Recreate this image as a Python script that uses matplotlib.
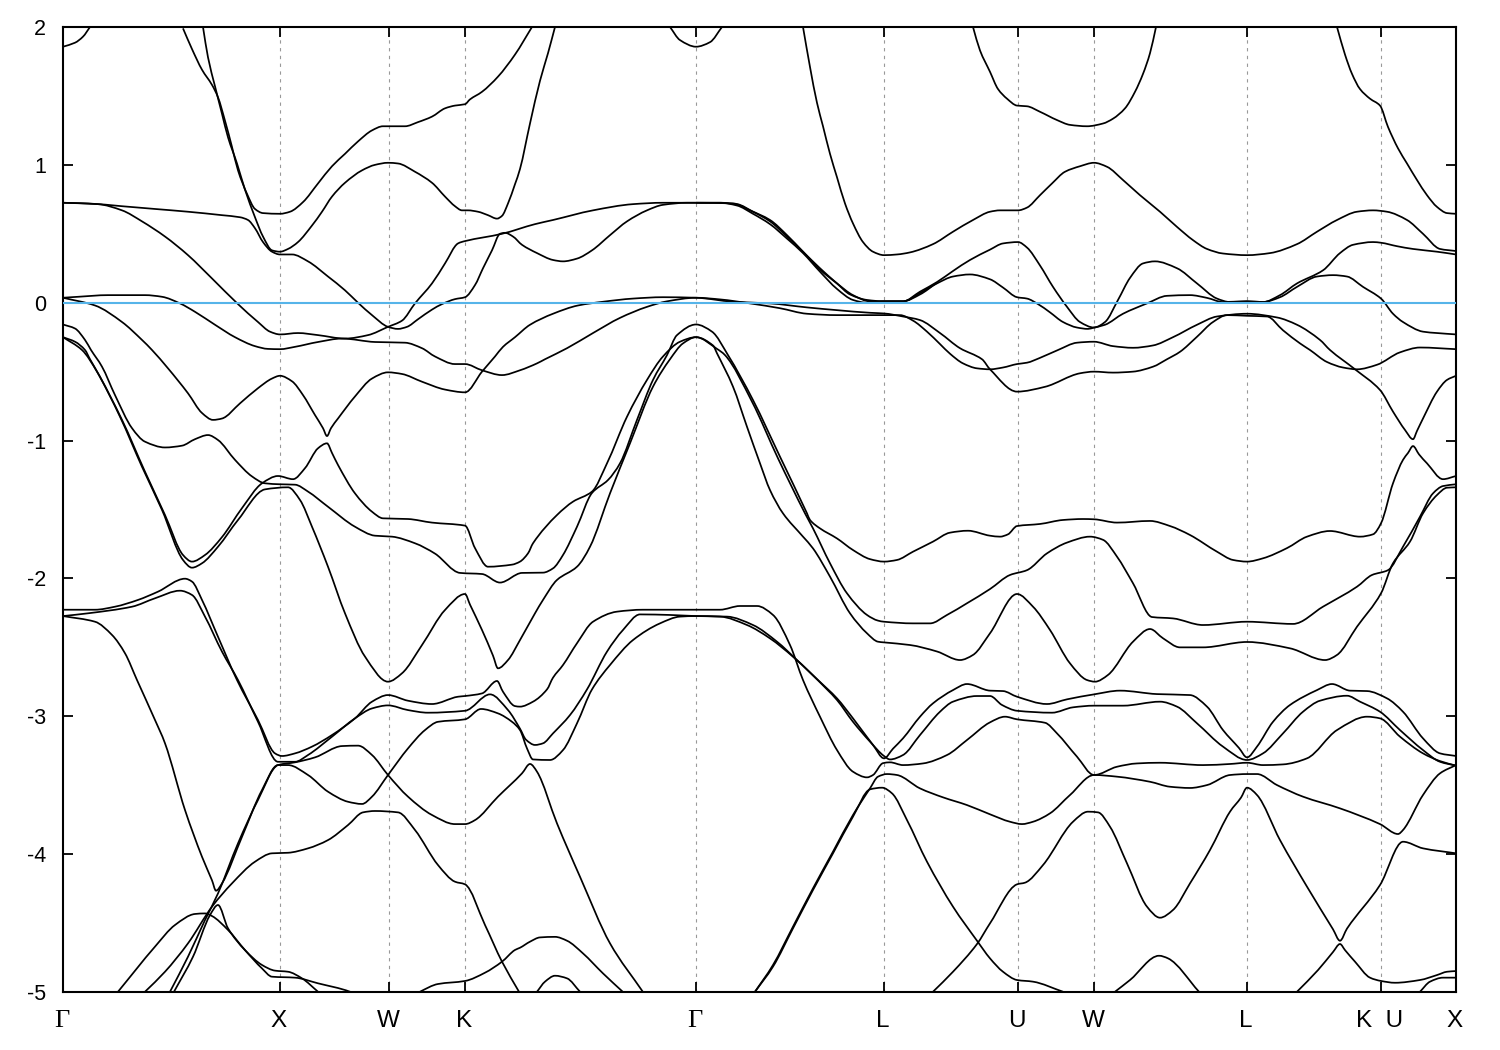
import matplotlib
matplotlib.use("Agg")
import matplotlib.pyplot as plt
from matplotlib.patches import PathPatch
from matplotlib.path import Path
from matplotlib.transforms import ScaledTranslation

plt.rcParams['font.family'] = ['Liberation Sans', 'DejaVu Sans']

# k-path position of the high symmetry points, energies in eV
kpoints = [0, 217, 326, 402, 633, 821, 955, 1031, 1184, 1318, 1393]
klabels = ["Γ", "X", "W", "K", "Γ", "L", "U", "W", "L", "K  U", "X"]
eticks = [2, 1, 0, -1, -2, -3, -4, -5]
elabels = ["2", "1", "0", "-1", "-2", "-3", "-4", "-5"]
fermi = 0

band_a = [(0, 1.857), (12, 1.886), (20, 1.93), (27, 2.0)]
band_b = [(120, 1.99), (129, 1.84), (139, 1.69), (149, 1.58), (155, 1.49), (162, 1.32), (169, 1.13), (175, .96),
          (184, .79), (192, .68), (200, .65), (217, .645), (227, .66), (240, .73), (255, .865), (269, .99),
          (282, 1.08), (295, 1.17), (309, 1.25), (320, 1.28), (342, 1.28), (355, 1.31), (369, 1.35), (382, 1.41),
          (392, 1.43), (402, 1.44), (407, 1.475), (419, 1.53), (435, 1.64), (452, 1.80), (469, 2.0)]
band_c = [(140, 2.0), (145, 1.78), (152, 1.57), (159, 1.37), (165, 1.20), (174, 1.01), (182, .82), (192, .62),
          (200, .48), (209, .38), (217, .37), (225, .39), (235, .44), (249, .56), (259, .66), (269, .77), (282, .87),
          (299, .96), (312, 1.0), (325, 1.015), (335, 1.01), (352, .95), (369, .87), (382, .77), (392, .70),
          (399, .67), (405, .67), (415, .66), (425, .635), (434, .61), (439, .63), (445, .72), (452, .86), (457, .97),
          (467, 1.30), (477, 1.61), (485, 1.81), (492, 2.0)]
band_d = [(0, .725), (25, .72), (59, .70), (92, .68), (125, .66), (159, .635), (177, .62), (185, .60), (192, .54),
          (200, .44), (209, .37), (217, .35), (229, .35), (245, .30), (265, .19), (282, .09), (295, 0), (309, -.09),
          (325, -.175), (335, -.19), (344, -.175), (355, -.12), (369, -.05), (379, -.01), (392, .026), (402, .04),
          (412, .128), (420, .25), (429, .38), (437, .50), (442, .507), (450, .48), (459, .42), (474, .36), (490, .31),
          (500, .30), (514, .32), (529, .38), (547, .49), (564, .59), (584, .67), (600, .71), (624, .725), (633, .725),
          (657, .725), (674, .715), (690, .66), (707, .59), (724, .48), (740, .37), (757, .25), (774, .14), (787, .06),
          (804, .02), (821, .01), (840, .01), (857, .07), (874, .14), (890, .19), (907, .205), (927, .17), (940, .11),
          (954, .04), (964, .03), (975, -.01), (987, -.07), (1000, -.14), (1014, -.18), (1025, -.19), (1031, -.18),
          (1042, -.16), (1060, -.08), (1084, -.005), (1104, .05), (1127, .055), (1144, .035), (1160, .005), (1184, .01),
          (1200, .005), (1217, .04), (1234, .115), (1254, .19), (1270, .20), (1284, .19), (1300, .115), (1318, .03),
          (1330, -.08), (1340, -.14), (1360, -.21), (1374, -.22), (1393, -.23)]
band_e = [(633, .725), (657, .725), (674, .705), (690, .645), (707, .57), (724, .465), (740, .36), (757, .225), (774, .10),
          (790, .02), (804, 0), (821, .01), (840, .01), (857, .08), (874, .15), (890, .23), (907, .31), (927, .385),
          (940, .43), (955, .44), (964, .40), (977, .27), (990, .115), (1004, -.03), (1017, -.14), (1031, -.18),
          (1042, -.14), (1055, .02), (1067, .18), (1080, .285), (1092, .30), (1114, .25), (1134, .14), (1154, .03),
          (1167, .005), (1184, .01), (1200, .005), (1217, .055), (1234, .14), (1260, .235), (1277, .36), (1290, .42),
          (1310, .44), (1318, .435), (1334, .41), (1350, .39), (1374, .37), (1393, .35)]
band_g = [(0, .725), (35, .715), (59, .67), (79, .59), (102, .48), (125, .345), (149, .176), (175, -.01), (195, -.14),
          (207, -.21), (217, -.23), (235, -.22), (255, -.235), (282, -.26), (305, -.235), (325, -.175), (339, -.13),
          (352, -.005), (369, .14), (382, .285), (395, .43), (402, .447), (439, .50), (472, .57), (490, .60), (530, .67),
          (570, .715), (600, .725), (633, .725), (670, .72), (687, .67), (707, .60), (724, .49), (740, .37), (757, .24),
          (774, .14), (790, .055), (807, .01), (821, .01), (840, .01), (857, .06), (874, .145)]
band_h = [(740, 2.0), (747, 1.71), (754, 1.45), (760, 1.28), (767, 1.08), (774, .91), (782, .72), (790, .575), (800, .44),
          (810, .37), (821, .345), (834, .35), (847, .365), (870, .425), (890, .515), (910, .60), (927, .66), (937, .67),
          (955, .67), (964, .69), (977, .78), (989, .865), (1002, .95), (1017, .99), (1031, 1.015), (1044, .986),
          (1060, .89), (1077, .78), (1097, .66), (1114, .55), (1130, .454), (1144, .39), (1160, .357), (1184, .345),
          (1207, .36), (1234, .425), (1254, .515), (1274, .60), (1294, .66), (1310, .67), (1324, .66), (1344, .60),
          (1360, .50), (1377, .39), (1393, .375)]
band_i = [(910, 2.0), (917, 1.83), (927, 1.675), (935, 1.55), (944, 1.48), (954, 1.43), (964, 1.425), (977, 1.385),
          (994, 1.325), (1007, 1.29), (1024, 1.28), (1040, 1.30), (1050, 1.335), (1062, 1.41), (1072, 1.53), (1080, 1.66),
          (1087, 1.81), (1093, 2.0)]
band_j = [(1274, 2.0), (1282, 1.80), (1289, 1.66), (1297, 1.55), (1307, 1.48), (1317, 1.43), (1325, 1.275), (1335, 1.12),
          (1344, 1.01), (1354, .89), (1364, .78), (1374, .695), (1384, .65), (1393, .645)]
band_k = [(607, 2.0), (617, 1.905), (633, 1.857), (647, 1.89), (659, 2.0)]
band_l = [(0, .036), (15, .043), (45, .055), (82, .055), (99, .043), (117, -.005), (132, -.066), (152, -.16), (172, -.25),
          (192, -.315), (205, -.335), (217, -.337), (232, -.32), (255, -.285), (279, -.26), (312, -.285), (342, -.29),
          (359, -.33), (372, -.39), (392, -.445), (402, -.445), (419, -.49), (439, -.525), (457, -.49), (474, -.44),
          (482, -.41), (504, -.33), (530, -.22), (557, -.11), (584, -.03), (604, .01), (633, .036), (657, .024),
          (687, -.005), (717, -.04), (744, -.08), (774, -.09), (804, -.09), (821, -.09), (837, -.09), (850, -.13),
          (864, -.21), (877, -.30), (887, -.37), (900, -.44), (914, -.476), (927, -.483), (940, -.47), (954, -.445),
          (964, -.435), (977, -.40), (995, -.343), (1014, -.29), (1031, -.283), (1050, -.315), (1070, -.327), (1090, -.31),
          (1110, -.25), (1134, -.16), (1154, -.10), (1184, -.08), (1214, -.107), (1234, -.16), (1257, -.27), (1267, -.343),
          (1292, -.483), (1317, -.633), (1330, -.79), (1342, -.923), (1350, -.99), (1354, -.93), (1360, -.84), (1374, -.645),
          (1384, -.56), (1393, -.53)]
band_m = [(0, .036), (32, -.02), (59, -.14), (79, -.27), (89, -.343), (105, -.476), (125, -.657), (139, -.80), (150, -.85),
          (159, -.84), (177, -.73), (195, -.62), (209, -.55), (217, -.53), (229, -.57), (240, -.67), (252, -.815), (260, -.91),
          (264, -.967), (268, -.91), (275, -.84), (292, -.68), (309, -.55), (325, -.505), (339, -.517), (359, -.573), (382, -.63),
          (402, -.65), (419, -.50), (432, -.39), (440, -.32), (452, -.25), (467, -.16), (490, -.08), (515, -.02), (540, .007),
          (570, .03), (600, .04), (633, .036), (670, .007), (707, -.005), (744, -.034), (774, -.054), (807, -.073), (821, -.078),
          (840, -.10), (857, -.126), (877, -.22), (897, -.33), (919, -.41), (927, -.483), (954, -.645), (982, -.61), (1017, -.512),
          (1031, -.50), (1050, -.507), (1070, -.50), (1090, -.464), (1104, -.41), (1117, -.356), (1134, -.247), (1150, -.14),
          (1164, -.09), (1184, -.095), (1204, -.10), (1220, -.2), (1237, -.295), (1247, -.343), (1264, -.43), (1280, -.47),
          (1294, -.483), (1314, -.45), (1337, -.36), (1357, -.325), (1393, -.337)]
band_n = [(0, -.158), (12, -.187), (22, -.27), (28, -.343), (39, -.464), (52, -.67), (69, -.91), (82, -1.008), (102, -1.05),
          (119, -1.037), (132, -.99), (145, -.96), (155, -.996), (172, -1.14), (189, -1.26), (202, -1.31), (217, -1.317),
          (232, -1.32), (245, -1.37), (265, -1.48), (292, -1.625), (312, -1.69), (329, -1.697), (352, -1.745), (372, -1.82),
          (397, -1.96), (419, -1.968), (437, -2.03), (459, -1.96), (480, -1.958), (490, -1.927), (500, -1.83), (514, -1.625),
          (529, -1.38), (545, -1.286), (557, -1.165), (574, -.85), (590, -.56), (604, -.38), (614, -.235), (633, -.158),
          (649, -.21), (665, -.38), (690, -.706), (717, -1.117), (744, -1.528), (747, -1.576),
          (757, -1.637), (774, -1.71), (790, -1.794), (807, -1.86), (821, -1.878), (834, -1.866), (850, -1.806), (870, -1.733),
          (887, -1.668), (905, -1.654), (927, -1.69), (937, -1.697), (945, -1.68), (954, -1.62), (977, -1.605), (1000, -1.576),
          (1020, -1.569), (1031, -1.571), (1054, -1.595), (1087, -1.583), (1107, -1.62), (1127, -1.685), (1154, -1.806),
          (1170, -1.866), (1184, -1.878), (1200, -1.854), (1224, -1.78), (1244, -1.697), (1267, -1.656), (1297, -1.697),
          (1310, -1.68), (1318, -1.6), (1330, -1.31), (1340, -1.14), (1345, -1.09), (1350, -1.04), (1356, -1.10), (1364, -1.165),
          (1380, -1.28), (1393, -1.257)]
band_o = [(0, -.25), (12, -.283), (22, -.343), (27, -.41), (35, -.512), (59, -.85), (82, -1.226), (102, -1.54), (120, -1.83),
          (129, -1.878), (142, -1.83), (159, -1.70), (179, -1.49), (199, -1.31), (215, -1.257), (230, -1.28), (242, -1.2),
          (255, -1.056), (264, -1.02), (269, -1.09), (275, -1.177), (292, -1.383), (309, -1.516), (320, -1.564), (345, -1.569),
          (369, -1.595), (402, -1.617), (412, -1.78), (425, -1.915), (449, -1.90), (457, -1.878), (465, -1.818), (470, -1.745),
          (494, -1.54), (510, -1.443), (529, -1.37), (544, -1.165), (564, -.827), (584, -.56), (600, -.39), (617, -.283), (633, -.25),
          (654, -.335), (662, -.38), (689, -.718), (715, -1.129), (742, -1.528), (750, -1.637), (767, -1.89), (784, -2.108),
          (804, -2.265), (815, -2.306), (821, -2.314), (850, -2.326), (867, -2.326), (884, -2.265), (904, -2.18), (927, -2.077),
          (947, -1.975), (964, -1.94), (984, -1.818), (1004, -1.74), (1027, -1.697), (1040, -1.72), (1054, -1.842), (1070, -2.035),
          (1089, -2.28), (1110, -2.29), (1140, -2.338), (1184, -2.314), (1230, -2.33), (1260, -2.205), (1294, -2.06), (1309, -1.975),
          (1325, -1.94), (1340, -1.77), (1357, -1.552), (1370, -1.383), (1380, -1.33), (1393, -1.317)]
band_p = [(0, -.25), (19, -.343), (34, -.50), (57, -.827), (79, -1.19), (99, -1.503), (120, -1.866), (129, -1.922), (139, -1.89),
          (155, -1.77), (175, -1.576), (202, -1.354), (225, -1.339), (237, -1.431), (249, -1.625), (265, -1.915), (282, -2.253),
          (302, -2.567), (325, -2.749), (339, -2.688), (359, -2.483), (382, -2.229), (402, -2.113), (407, -2.19), (419, -2.374),
          (430, -2.56), (435, -2.652), (445, -2.592), (457, -2.447), (472, -2.253), (480, -2.156), (494, -2.011), (514, -1.915),
          (527, -1.77), (547, -1.383), (567, -1.02), (590, -.609), (607, -.41), (620, -.295), (633, -.25), (650, -.31), (654, -.367),
          (670, -.609), (684, -.9), (697, -1.165), (707, -1.359), (720, -1.528), (740, -1.697), (750, -1.782), (767, -1.987),
          (787, -2.253), (804, -2.398), (815, -2.459), (821, -2.464), (847, -2.483),
          (874, -2.53), (897, -2.592), (910, -2.555), (927, -2.398), (954, -2.113), (970, -2.205), (987, -2.374), (1007, -2.616),
          (1024, -2.737), (1032, -2.749), (1045, -2.70), (1070, -2.459), (1087, -2.367), (1100, -2.434), (1117, -2.5), (1140, -2.5),
          (1184, -2.461), (1227, -2.507), (1262, -2.592), (1274, -2.555), (1294, -2.35), (1318, -2.108), (1330, -1.89), (1347, -1.733),
          (1360, -1.528), (1374, -1.395), (1384, -1.342), (1393, -1.339)]
band_q = [(0, -2.227), (32, -2.227), (52, -2.205), (75, -2.156), (95, -2.096), (122, -2.002), (129, -2.023), (139, -2.156),
          (155, -2.423), (174, -2.737), (195, -3.027), (212, -3.269), (219, -3.288), (232, -3.269), (249, -3.22), (269, -3.136),
          (292, -3.015), (309, -2.894), (325, -2.846), (345, -2.887), (369, -2.911), (395, -2.858), (402, -2.853), (419, -2.834),
          (434, -2.744), (440, -2.822), (452, -2.926), (457, -2.93), (470, -2.894), (484, -2.805), (490, -2.72), (500, -2.628),
          (514, -2.47), (530, -2.314), (554, -2.241), (580, -2.227), (657, -2.227), (677, -2.2), (694, -2.2), (710, -2.265),
          (727, -2.483), (740, -2.737), (757, -3.003), (774, -3.245), (790, -3.402), (804, -3.443), (810, -3.426), (820, -3.34),
          (827, -3.334), (840, -3.354), (860, -3.342), (884, -3.281), (904, -3.172), (927, -3.044), (942, -3.003), (954, -3.022),
          (982, -3.047), (994, -3.124), (1014, -3.293), (1031, -3.426), (1054, -3.366), (1074, -3.342), (1097, -3.337), (1140, -3.354),
          (1167, -3.346), (1184, -3.337), (1200, -3.354), (1220, -3.349), (1244, -3.305), (1274, -3.1), (1304, -3.003), (1317, -3.015),
          (1337, -3.148), (1360, -3.269), (1377, -3.325), (1393, -3.358)]
band_r = [(0, -2.273), (25, -2.253), (69, -2.205), (92, -2.144), (117, -2.089), (129, -2.12), (142, -2.277), (159, -2.531),
          (175, -2.737), (195, -3.04), (215, -3.33), (232, -3.33), (245, -3.281), (269, -3.148), (292, -3.015), (309, -2.943),
          (325, -2.921), (345, -2.955), (365, -2.974), (402, -2.96), (427, -2.841), (445, -2.955), (457, -3.09), (463, -3.17),
          (472, -3.208), (480, -3.196), (490, -3.124), (507, -2.991), (524, -2.805), (544, -2.531), (560, -2.374), (577, -2.261),
          (607, -2.265), (633, -2.273), (664, -2.277), (690, -2.338), (714, -2.459), (734, -2.592), (755, -2.737), (774, -2.87),
          (790, -3.015), (810, -3.208), (821, -3.305), (830, -3.235), (840, -3.16), (857, -3.003), (870, -2.906), (890, -2.81),
          (904, -2.766), (927, -2.814), (940, -2.817), (954, -2.858), (984, -2.911), (1004, -2.877), (1031, -2.841), (1057, -2.814),
          (1094, -2.839), (1127, -2.846), (1144, -2.93), (1160, -3.1), (1176, -3.23), (1184, -3.298), (1194, -3.22), (1210, -3.04),
          (1227, -2.918), (1254, -2.81), (1269, -2.766), (1287, -2.814), (1304, -2.817), (1324, -2.87), (1340, -2.967), (1360, -3.16),
          (1377, -3.269), (1393, -3.288)]
band_s = [(0, -2.273), (32, -2.314), (49, -2.41), (62, -2.543), (74, -2.737), (92, -3.027), (102, -3.196), (122, -3.68),
          (139, -4.019), (149, -4.19), (153, -4.265), (159, -4.212), (179, -3.874), (199, -3.535), (215, -3.354), (225, -3.354),
          (245, -3.426), (265, -3.547), (285, -3.62), (299, -3.636), (309, -3.583), (325, -3.426), (345, -3.233), (362, -3.1),
          (375, -3.04), (402, -3.022), (418, -2.947), (435, -2.979), (449, -3.04), (457, -3.1), (464, -3.233), (470, -3.313),
          (487, -3.317), (500, -3.245), (514, -3.051), (529, -2.805), (547, -2.628), (570, -2.447), (597, -2.326), (617, -2.277),
          (633, -2.273), (657, -2.277), (684, -2.338), (707, -2.435), (730, -2.568), (764, -2.805), (774, -2.882), (790, -3.04),
          (807, -3.184), (821, -3.288), (827, -3.313), (840, -3.281), (857, -3.136), (877, -2.967), (890, -2.894), (914, -2.853),
          (927, -2.853), (939, -2.918), (954, -2.96), (989, -2.974), (1010, -2.935), (1031, -2.923), (1060, -2.923), (1097, -2.894),
          (1114, -2.93), (1134, -3.051), (1160, -3.22), (1184, -3.317), (1200, -3.269), (1220, -3.124), (1240, -2.967), (1257, -2.887),
          (1284, -2.851), (1297, -2.894), (1317, -2.967), (1337, -3.1), (1360, -3.245), (1377, -3.33), (1393, -3.358)]
band_t1 = [(55, -4.998), (92, -4.671), (112, -4.514), (132, -4.434), (142, -4.43), (149, -4.449), (165, -4.55), (182, -4.696),
           (199, -4.829), (209, -4.889), (232, -4.896), (255, -4.937), (287, -4.998), (320, -5.15), (357, -4.998), (375, -4.942),
           (402, -4.92), (422, -4.86), (439, -4.78), (452, -4.695), (457, -4.679), (467, -4.635), (477, -4.604), (492, -4.6),
           (504, -4.628), (520, -4.72), (540, -4.865), (560, -5.0)]
band_t2 = [(82, -4.998), (102, -4.853), (125, -4.647), (149, -4.381), (169, -4.212), (192, -4.055), (209, -3.994), (225, -3.99),
           (245, -3.958), (265, -3.898), (285, -3.789), (300, -3.697), (312, -3.687), (335, -3.697), (352, -3.825), (375, -4.079),
           (392, -4.2), (402, -4.219), (422, -4.514), (439, -4.78), (456, -4.998)]
band_t3 = [(107, -4.998), (125, -4.744), (142, -4.478), (155, -4.285), (175, -3.922), (195, -3.607), (215, -3.354), (232, -3.334),
           (252, -3.298), (279, -3.216), (295, -3.213), (309, -3.281), (325, -3.426), (345, -3.583), (369, -3.716), (392, -3.782),
           (402, -3.782), (412, -3.753), (435, -3.583), (459, -3.414), (467, -3.346), (474, -3.402), (494, -3.777), (517, -4.164),
           (547, -4.647), (580, -5.0)]
band_t4 = [(111, -4.998), (130, -4.744), (147, -4.442), (155, -4.369), (165, -4.538), (182, -4.696), (199, -4.804), (212, -4.845),
           (225, -4.853), (239, -4.901), (255, -4.998)]
band_u = [(474, -4.998), (482, -4.925), (492, -4.882), (504, -4.901), (517, -4.998)]
band_v = [(692, -4.998), (710, -4.816), (730, -4.538), (750, -4.26), (770, -3.994), (790, -3.728), (807, -3.53), (819, -3.518),
          (829, -3.559), (844, -3.753), (864, -4.055), (890, -4.381), (914, -4.628), (927, -4.756), (940, -4.853), (954, -4.913),
          (970, -4.925), (1000, -4.998)]
band_v2 = [(1052, -4.998), (1067, -4.913), (1096, -4.737), (1105, -4.756), (1136, -4.998)]
band_v3 = [(1234, -4.998), (1255, -4.841), (1270, -4.71), (1277, -4.652), (1282, -4.696), (1292, -4.78), (1307, -4.896),
           (1318, -4.92), (1332, -4.933), (1357, -4.913), (1374, -4.877), (1384, -4.853), (1393, -4.848)]
band_v4 = [(1357, -4.998), (1367, -4.925), (1380, -4.896), (1393, -4.896)]
band_w = [(692, -4.998), (710, -4.804), (730, -4.526), (750, -4.248), (770, -3.982), (790, -3.716), (807, -3.523), (815, -3.438),
          (824, -3.419), (834, -3.426), (857, -3.523), (880, -3.588), (904, -3.644), (927, -3.711), (947, -3.765), (959, -3.782),
          (970, -3.765), (987, -3.704), (1007, -3.571), (1031, -3.426), (1054, -3.438), (1087, -3.475), (1107, -3.511), (1127, -3.52),
          (1144, -3.499), (1167, -3.426), (1184, -3.419), (1194, -3.419), (1214, -3.499), (1240, -3.583), (1277, -3.668), (1317, -3.782),
          (1335, -3.854), (1340, -3.825), (1360, -3.571), (1377, -3.414), (1393, -3.354)]
band_y = [(870, -4.998), (890, -4.853), (914, -4.652), (927, -4.502), (954, -4.219), (962, -4.207), (980, -4.079), (1010, -3.765),
          (1025, -3.692), (1035, -3.697), (1047, -3.801), (1064, -4.067), (1084, -4.381), (1097, -4.461), (1110, -4.405), (1127, -4.212),
          (1147, -3.97), (1167, -3.692), (1178, -3.59), (1184, -3.518), (1194, -3.571), (1217, -3.898), (1244, -4.236), (1270, -4.545),
          (1277, -4.628), (1284, -4.54), (1317, -4.224), (1340, -3.91), (1360, -3.958), (1393, -3.994)]

bands = [band_a, band_b, band_c, band_d, band_e, band_g, band_h, band_i, band_j, band_k, band_l, band_m, band_n, band_o,
         band_p, band_q, band_r, band_s, band_t1, band_t2, band_t3, band_t4, band_u, band_v, band_v2, band_v3, band_v4,
         band_w, band_y]


def band_path(band):
    # bezier through the read points, flat tangent at each turning point so it cannot overshoot
    ks = [p[0] for p in band]
    es = [p[1] for p in band]
    n = len(band)
    slopes = [(es[i + 1] - es[i]) / (ks[i + 1] - ks[i]) for i in range(n - 1)]
    tang = [slopes[0]] + [0.0] * (n - 2) + [slopes[-1]]
    for i in range(1, n - 1):
        a, b = slopes[i - 1], slopes[i]
        if a * b > 0:
            tang[i] = 2 * a * b / (a + b)
    verts = [(ks[0], es[0])]
    codes = [Path.MOVETO]
    for i in range(n - 1):
        h = (ks[i + 1] - ks[i]) / 3
        verts += [(ks[i] + h, es[i] + tang[i] * h), (ks[i + 1] - h, es[i + 1] - tang[i + 1] * h), (ks[i + 1], es[i + 1])]
        codes += [Path.CURVE4] * 3
    return Path(verts, codes)


fig = plt.figure(figsize=(15, 10.5), dpi=100)
ax = fig.add_axes([63 / 1500, 58 / 1050, 1393 / 1500, 965 / 1050])

for k in kpoints[1:-1]:
    ax.axvline(k, color='#999999', lw=0.8, ls=(0, (3, 4)), zorder=1)

for band in bands:
    ax.add_patch(PathPatch(band_path(band), fill=False, edgecolor='black', lw=1.25, zorder=2))

ax.axhline(fermi, color='#56B4E9', lw=1.5, zorder=3)

ax.set_xlim(kpoints[0], kpoints[-1])
ax.set_ylim(-5, 2)
ax.set_xticks(kpoints)
ax.set_xticklabels(klabels)
ax.set_yticks(eticks)
ax.set_yticklabels(elabels)
ax.tick_params(direction='in', length=7.5, width=1.3, top=True, right=True)
ax.tick_params(axis='x', pad=13, labelsize=17.5)
ax.tick_params(axis='y', pad=12, labelsize=15.5)
shift = ScaledTranslation(-1 / 100, 0, fig.dpi_scale_trans)
for lab in ax.get_xticklabels():
    lab.set_transform(lab.get_transform() + shift)
    if lab.get_text() == "Γ":
        lab.set_family('Liberation Serif')
        lab.set_fontsize(19)
for side in ax.spines.values():
    side.set_linewidth(1.5)

fig.savefig("out.png", dpi=100)
